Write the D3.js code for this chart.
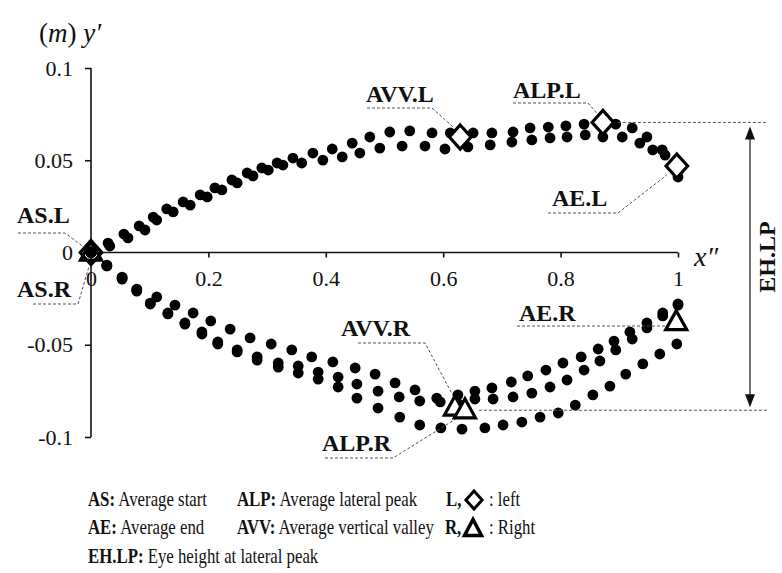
<!DOCTYPE html>
<html>
<head>
<meta charset="utf-8">
<script src="https://cdn.jsdelivr.net/npm/d3@7"></script>
<style>
  body { margin: 0; background: #fff; }
  svg text { font-family: "Liberation Serif", "Times New Roman", "DejaVu Serif", serif; fill: #111; }
</style>
</head>
<body>
<svg width="782" height="573"></svg>
<script>
// left foot path (upper band), two trials
var xL1 = [0,0.029,0.056,0.082,0.106,0.129,0.157,0.186,0.211,0.240,0.266,0.291,0.317,0.344,0.378,0.411,0.445,0.475,0.509,0.543,0.581,0.612,0.651,0.683,0.719,0.748,0.779,0.809,0.840,0.867,0.894,0.922,0.947,0.973,0.998];
var yL1 = [0,0.0051,0.0100,0.0144,0.0192,0.0236,0.0274,0.0312,0.0350,0.0393,0.0431,0.0458,0.0485,0.0512,0.0539,0.0561,0.0593,0.0626,0.0653,0.0659,0.0648,0.0648,0.0648,0.0648,0.0653,0.0675,0.0680,0.0686,0.0696,0.0707,0.0696,0.0675,0.0626,0.0556,0.0474];
var xL2 = [0,0.032,0.063,0.092,0.112,0.140,0.169,0.198,0.223,0.249,0.276,0.302,0.327,0.359,0.395,0.428,0.458,0.492,0.530,0.569,0.603,0.642,0.680,0.717,0.751,0.782,0.811,0.842,0.872,0.905,0.935,0.957,0.978,1.0];
var yL2 = [0,0.0035,0.0079,0.0122,0.0176,0.0220,0.0257,0.0301,0.0339,0.0377,0.0415,0.0447,0.0474,0.0485,0.0501,0.0518,0.0539,0.0566,0.0577,0.0577,0.0561,0.0572,0.0583,0.0599,0.0610,0.0621,0.0626,0.0637,0.0626,0.0626,0.0593,0.0556,0.0528,0.0409];

// right foot path (lower band), three trials
var xR1 = [0,0.027,0.053,0.078,0.112,0.143,0.174,0.204,0.237,0.271,0.307,0.342,0.376,0.412,0.450,0.484,0.518,0.552,0.589,0.625,0.654,0.683,0.716,0.744,0.775,0.804,0.835,0.864,0.891,0.918,0.947,0.974,1.0];
var yR1 = [0,-0.0068,-0.0133,-0.0198,-0.0241,-0.0285,-0.0328,-0.0371,-0.0415,-0.0463,-0.0496,-0.0528,-0.0566,-0.0593,-0.0626,-0.0659,-0.0707,-0.0745,-0.0789,-0.0772,-0.0751,-0.0734,-0.0702,-0.0669,-0.0637,-0.0599,-0.0566,-0.0523,-0.0480,-0.0431,-0.0382,-0.0328,-0.0279];
var xR2 = [0,0.027,0.053,0.078,0.101,0.131,0.160,0.189,0.216,0.249,0.283,0.319,0.353,0.387,0.421,0.453,0.489,0.525,0.560,0.595,0.624,0.654,0.685,0.719,0.751,0.782,0.811,0.840,0.867,0.894,0.922,0.947,0.974,1.0];
var yR2 = [0,-0.0073,-0.0138,-0.0203,-0.0274,-0.0328,-0.0382,-0.0431,-0.0485,-0.0528,-0.0566,-0.0599,-0.0615,-0.0648,-0.0675,-0.0713,-0.0751,-0.0783,-0.0805,-0.0810,-0.0816,-0.0794,-0.0794,-0.0783,-0.0762,-0.0729,-0.0691,-0.0637,-0.0588,-0.0528,-0.0469,-0.0409,-0.0344,-0.0285];
var xR3 = [0,0.027,0.053,0.078,0.101,0.131,0.160,0.189,0.216,0.249,0.283,0.319,0.353,0.387,0.421,0.453,0.489,0.526,0.560,0.596,0.632,0.671,0.702,0.734,0.765,0.796,0.825,0.855,0.884,0.911,0.940,0.969,0.998];
var yR3 = [0,-0.0073,-0.0144,-0.0209,-0.0279,-0.0333,-0.0388,-0.0442,-0.0496,-0.0539,-0.0583,-0.0621,-0.0653,-0.0686,-0.0729,-0.0789,-0.0843,-0.0892,-0.0935,-0.0951,-0.0957,-0.0951,-0.0935,-0.0919,-0.0892,-0.0870,-0.0827,-0.0772,-0.0724,-0.0659,-0.0604,-0.0550,-0.0496];

// averaged key points
var markNames = ["AS.L","AVV.L","ALP.L","AE.L","AS.R","AVV.R","ALP.R","AE.R"];
var markX = [0, 0.629, 0.872, 0.998, 0, 0.62, 0.637, 0.997];
var markY = [0, 0.0626, 0.0705, 0.0469, 0, -0.084, -0.0855, -0.0377];
var markSide = ["L","L","L","L","R","R","R","R"];

var yTicks = [-0.1, -0.05, 0, 0.05, 0.1];
var xTicks = [0, 0.2, 0.4, 0.6, 0.8, 1];

var serif = '"Liberation Serif", "Times New Roman", "DejaVu Serif", serif';

var svg = d3.select("svg");
svg.append("rect").attr("width", 782).attr("height", 573).attr("fill", "#fff");

var x = d3.scaleLinear().domain([0, 1]).range([91, 678]);
var y = d3.scaleLinear().domain([-0.1, 0.1]).range([437, 68]);

// axes
var yAxis = d3.axisLeft(y).tickValues(yTicks).tickSize(6).tickPadding(12)
    .tickFormat(d => String(d));
var yG = svg.append("g").attr("transform", "translate(" + x(0) + ",0)").call(yAxis);
var xAxis = d3.axisBottom(x).tickValues(xTicks).tickSize(5).tickPadding(13)
    .tickFormat(d => String(d));
var xG = svg.append("g").attr("transform", "translate(0," + y(0) + ")").call(xAxis);

[yG, xG].forEach(function(g) {
  g.attr("font-family", null);
  g.select(".domain").attr("stroke", "#111").attr("stroke-width", 1.6);
  g.selectAll(".tick line").attr("stroke", "#111").attr("stroke-width", 1.6);
  g.selectAll(".tick text").style("font-family", serif).attr("font-size", 22).attr("fill", "#111");
});
// d3 adds outer ticks; drop them on the domain path
yG.select(".domain").attr("d", "M0," + y(0.1) + "V" + y(-0.1));
xG.select(".domain").attr("d", "M" + x(0) + ",0H" + x(1));

// axis titles
var yt = svg.append("text").attr("x", 39).attr("y", 42).attr("font-size", 27);
yt.append("tspan").text("(");
yt.append("tspan").attr("font-style", "italic").text("m");
yt.append("tspan").text(") ");
yt.append("tspan").attr("font-style", "italic").text("y′");
svg.append("text").attr("x", 694).attr("y", 266).attr("font-size", 28)
  .attr("font-style", "italic").text("x″");

// dots
var series = [[xL1, yL1], [xL2, yL2], [xR1, yR1], [xR2, yR2], [xR3, yR3]];
series.forEach(function(s) {
  var pts = s[0].map((v, i) => ({ x: v, y: s[1][i] }));
  svg.append("g").selectAll("circle").data(pts).enter().append("circle")
    .attr("cx", d => x(d.x)).attr("cy", d => y(d.y)).attr("r", 5.4)
    .attr("fill", "#000");
});

// EH.LP guide lines + double arrow
var iPL = markNames.indexOf("ALP.L"), iPR = markNames.indexOf("ALP.R");
var guide = svg.append("g").attr("stroke", "#555").attr("stroke-width", 1).attr("stroke-dasharray", "3,2");
guide.append("line").attr("x1", x(markX[iPL]) + 10).attr("x2", 768)
  .attr("y1", y(markY[iPL])).attr("y2", y(markY[iPL]));
guide.append("line").attr("x1", x(markX[iPR]) + 14).attr("x2", 768)
  .attr("y1", y(markY[iPR])).attr("y2", y(markY[iPR]));

var ax = 750, aTop = y(markY[iPL]), aBot = y(markY[iPR]);
svg.append("line").attr("x1", ax).attr("x2", ax).attr("y1", aTop + 10).attr("y2", aBot - 10)
  .attr("stroke", "#111").attr("stroke-width", 1.2);
svg.append("path").attr("d", "M" + ax + "," + (aTop + 4) + "l-5,13h10z").attr("fill", "#111");
svg.append("path").attr("d", "M" + ax + "," + (aBot - 3) + "l-5,-13h10z").attr("fill", "#111");
svg.append("text").attr("transform", "translate(775,257) rotate(-90)")
  .attr("text-anchor", "middle").attr("font-size", 24).attr("font-weight", "bold").text("EH.LP");

// leader lines for labels: [name, label x, label baseline, line points]
var labels = [
  ["AS.L", 17, 223, [[18, 233], [65, 233], [x(0) - 8, y(0) - 6]]],
  ["AS.R", 17, 297, [[33, 304], [78, 304], [x(0) - 2, y(0) + 14]]],
  ["AVV.L", 366, 102, [[367, 108], [432, 108], [x(0.629) - 6, y(0.0626) - 9]]],
  ["ALP.L", 513, 98, [[513, 103], [588, 103], [x(0.872) - 5, y(0.0705) - 8]]],
  ["AE.L", 552, 206, [[548, 213], [618, 213], [x(0.998) - 10, y(0.0469) + 9]]],
  ["AVV.R", 341, 336, [[358, 343], [425, 343], [x(0.62) - 2, y(-0.084) - 12]]],
  ["ALP.R", 322, 451, [[325, 458], [393, 458], [x(0.637) - 8, y(-0.0855) + 8]]],
  ["AE.R", 519, 321, [[517, 326], [x(0.997) - 10, 326]]]
];
var lead = svg.append("g");
labels.forEach(function(l) {
  lead.append("path").attr("d", d3.line()(l[3])).attr("fill", "none")
    .attr("stroke", "#555").attr("stroke-width", 1).attr("stroke-dasharray", "3,2");
  lead.append("text").attr("x", l[1]).attr("y", l[2]).attr("font-size", 24)
    .attr("font-weight", "bold").text(l[0]);
});

// markers
function diamondPath(cx, cy, r) {
  return "M" + cx + "," + (cy - r) + "L" + (cx + r * 0.9) + "," + cy + "L" + cx + "," + (cy + r) + "L" + (cx - r * 0.9) + "," + cy + "Z";
}
function trianglePath(cx, cy, w, h) {
  return "M" + cx + "," + (cy - h * 0.6) + "L" + (cx + w / 2) + "," + (cy + h * 0.4) + "L" + (cx - w / 2) + "," + (cy + h * 0.4) + "Z";
}
markNames.forEach(function(n, i) {
  var cx = x(markX[i]), cy = y(markY[i]);
  svg.append("path")
    .attr("d", markSide[i] === "L" ? diamondPath(cx, cy, 12) : trianglePath(cx, cy, 21, 19))
    .attr("fill", markX[i] === 0 ? "none" : "#fff")
    .attr("stroke", "#000").attr("stroke-width", 3.2).attr("stroke-linejoin", "miter");
});

// legend (type in the source is condensed; squeeze it horizontally)
var legRows = [
  [[88, 506, "AS:", " Average start"], [237, 506, "ALP:", " Average lateral peak"], [446, 506, "L,", ""]],
  [[88, 534, "AE:", " Average end"], [237, 534, "AVV:", " Average vertical valley"], [445, 534, "R,", ""]],
  [[88, 563, "EH.LP:", " Eye height at lateral peak"]]
];
function legText(px, py, bold, rest) {
  var t = svg.append("text").attr("transform", "translate(" + px + "," + py + ") scale(0.8,1)")
    .attr("font-size", 21);
  t.append("tspan").attr("font-weight", "bold").text(bold);
  t.append("tspan").text(rest);
}
legRows.forEach(function(row) {
  row.forEach(c => legText(c[0], c[1], c[2], c[3]));
});
svg.append("path").attr("d", diamondPath(474, 500, 9)).attr("fill", "#fff")
  .attr("stroke", "#000").attr("stroke-width", 3);
svg.append("path").attr("d", trianglePath(473, 529, 17, 16)).attr("fill", "#fff")
  .attr("stroke", "#000").attr("stroke-width", 3.5);
legText(489, 506, "", ": left");
legText(489, 534, "", ": Right");
</script>
</body>
</html>
